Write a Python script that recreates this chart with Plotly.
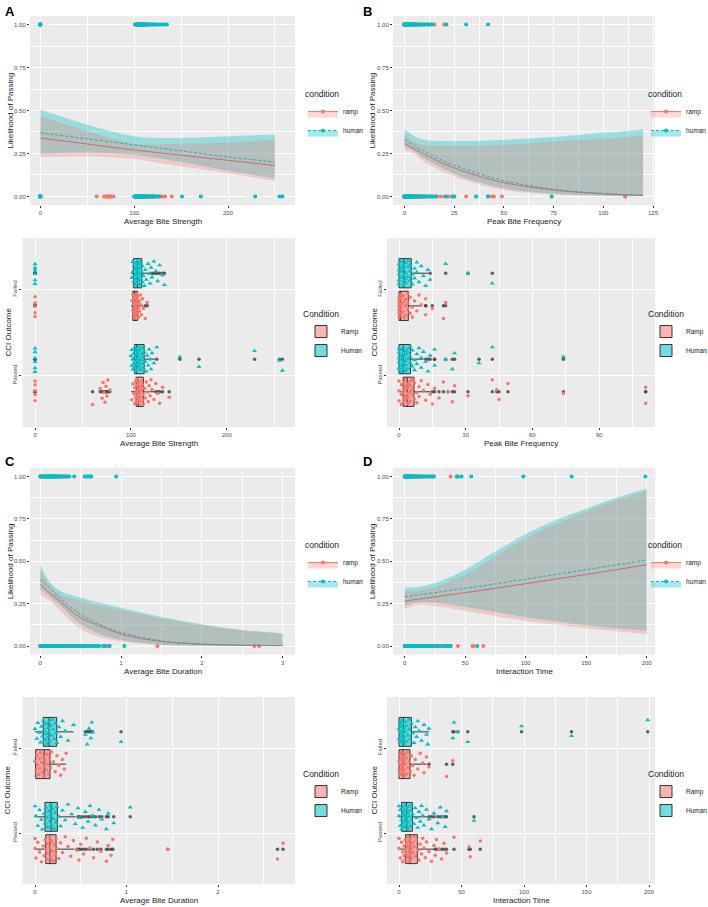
import plotly.graph_objects as go

# ======================= DATA =======================
# --- Average Bite Strength (raw values per condition / outcome) ---
strength_ramp_failed = [0, 0, 0, 0, 0, 101, 102, 102, 103, 103, 103, 104, 104, 104, 105, 105, 105, 105,
                        106, 106, 106, 107, 107, 107, 108, 108, 109, 109, 110, 110, 111, 112, 113, 115, 117]
strength_human_failed = [0, 0, 0, 0, 0, 0, 101, 102, 102, 103, 103, 104, 104, 105, 105, 105, 106, 106, 106,
                         107, 107, 107, 108, 108, 108, 109, 109, 110, 110, 111, 112, 112, 113, 114, 115, 116,
                         118, 119, 120, 121, 122, 124, 126, 128, 130, 133, 135]
strength_ramp_passed = [0, 0, 0, 0, 0, 60, 68, 70, 71, 72, 73, 74, 75, 76, 78, 101, 102, 103, 104, 104, 105,
                        105, 106, 106, 107, 107, 107, 108, 108, 108, 109, 109, 110, 110, 111, 111, 112, 112,
                        113, 113, 114, 115, 116, 117, 118, 119, 120, 121, 122, 124, 126, 128, 130, 133, 140]
strength_human_passed = [0, 0, 0, 0, 0, 0, 100, 101, 101, 102, 102, 103, 103, 104, 104, 104, 105, 105, 105,
                         106, 106, 106, 107, 107, 107, 108, 108, 108, 109, 109, 110, 110, 111, 111, 112, 112,
                         113, 114, 115, 116, 117, 118, 119, 120, 121, 122, 124, 127, 151, 171, 229, 255, 258]
# --- Peak Bite Frequency ---
freq_ramp_failed = [0, 0, 0, 0, 0, 0, 0, 1, 1, 1, 1, 1, 2, 2, 2, 2, 3, 3, 3, 4, 4, 4, 5, 5, 6, 6, 7, 8, 9,
                    10, 12, 12, 15, 20, 21]
freq_human_failed = [0, 0, 0, 0, 0, 1, 1, 1, 1, 2, 2, 2, 2, 2, 3, 3, 3, 3, 4, 4, 4, 5, 5, 5, 6, 6, 7, 7, 8,
                     8, 9, 10, 11, 12, 13, 14, 21, 31, 42]
freq_ramp_passed = [0, 0, 0, 1, 1, 1, 2, 2, 2, 2, 2, 3, 3, 3, 3, 3, 4, 4, 4, 4, 4, 5, 5, 5, 5, 6, 6, 6, 7, 7,
                    8, 8, 9, 9, 10, 11, 12, 13, 14, 15, 16, 18, 20, 22, 24, 25, 31, 42, 44, 45, 49, 74, 111, 111]
freq_human_passed = [0, 0, 0, 0, 0, 1, 1, 1, 1, 1, 2, 2, 2, 2, 2, 2, 3, 3, 3, 3, 3, 4, 4, 4, 4, 5, 5, 5, 6,
                     6, 7, 7, 8, 8, 9, 10, 10, 11, 12, 13, 14, 16, 16, 21, 24, 25, 36, 42, 74]
# --- Average Bite Duration ---
dur_ramp_failed = [0.0, 0.01, 0.02, 0.03, 0.04, 0.05, 0.05, 0.06, 0.07, 0.08, 0.09, 0.10, 0.10, 0.11, 0.12,
                   0.13, 0.14, 0.15, 0.16, 0.17, 0.18, 0.20, 0.22, 0.24, 0.26, 0.28, 0.30, 0.32, 0.34]
dur_human_failed = [0.0, 0.02, 0.03, 0.05, 0.06, 0.07, 0.08, 0.09, 0.10, 0.11, 0.12, 0.12, 0.13, 0.14, 0.14,
                    0.15, 0.15, 0.16, 0.17, 0.18, 0.19, 0.20, 0.21, 0.22, 0.23, 0.24, 0.26, 0.28, 0.30, 0.33,
                    0.36, 0.42, 0.55, 0.57, 0.59, 0.61, 0.62, 0.63, 0.94]
dur_ramp_passed = [0.0, 0.0, 0.01, 0.03, 0.05, 0.07, 0.09, 0.10, 0.11, 0.12, 0.13, 0.14, 0.15, 0.16, 0.16,
                   0.17, 0.18, 0.19, 0.20, 0.21, 0.22, 0.23, 0.24, 0.26, 0.28, 0.30, 0.33, 0.36, 0.39, 0.42,
                   0.46, 0.48, 0.50, 0.53, 0.56, 0.60, 0.64, 0.68, 0.72, 0.78, 0.80, 0.83, 0.85, 1.45, 2.65, 2.71]
dur_human_passed = [0.0, 0.01, 0.03, 0.05, 0.07, 0.08, 0.10, 0.11, 0.12, 0.13, 0.14, 0.15, 0.16, 0.17, 0.17,
                    0.18, 0.19, 0.20, 0.21, 0.22, 0.23, 0.24, 0.26, 0.28, 0.30, 0.33, 0.36, 0.40, 0.44, 0.47,
                    0.49, 0.52, 0.55, 0.58, 0.60, 0.63, 0.66, 0.70, 0.73, 0.78, 0.80, 0.86, 1.04]
# --- Interaction Time ---
time_ramp_failed = [0, 0, 1, 1, 1, 2, 2, 2, 3, 3, 3, 3, 4, 4, 4, 5, 5, 6, 6, 7, 7, 8, 9, 10, 11, 12, 13, 15,
                    17, 19, 20, 22, 24, 38, 43]
time_human_failed = [0, 0, 1, 1, 1, 2, 2, 2, 3, 3, 3, 3, 4, 4, 4, 5, 5, 6, 6, 7, 8, 8, 9, 10, 11, 12, 13, 14,
                     15, 16, 18, 20, 22, 23, 24, 43, 44, 47, 55, 98, 138, 199]
time_ramp_passed = [0, 0, 1, 2, 3, 3, 4, 4, 5, 5, 5, 6, 6, 7, 7, 7, 8, 8, 8, 9, 9, 9, 10, 10, 11, 11, 12, 12,
                    13, 14, 15, 16, 17, 18, 19, 20, 21, 22, 24, 26, 28, 29, 30, 32, 34, 36, 38, 44, 56, 57, 65]
time_human_passed = [0, 0, 1, 1, 2, 2, 3, 3, 3, 4, 4, 4, 5, 5, 5, 6, 6, 6, 7, 7, 7, 8, 8, 9, 9, 10, 10, 11,
                     12, 13, 14, 15, 16, 17, 18, 19, 20, 22, 24, 26, 28, 31, 33, 35, 37, 38, 60]

# --- Box statistics: [q1, median, q3, lower whisker, upper whisker] ---
strength_ramp_failed_box = [102.0, 104.0, 107.0, 100.0, 113.0]
strength_ramp_passed_box = [105.4, 107.8, 113.0, 100.0, 125.0]
strength_human_failed_box = [102.6, 106.8, 111.3, 100.0, 121.0]
strength_human_passed_box = [103.7, 106.0, 113.8, 100.0, 125.0]
freq_ramp_failed_box = [0.0, 0.7, 4.2, 0.0, 10.0]
freq_ramp_passed_box = [1.9, 3.75, 6.75, 0.0, 14.0]
freq_human_failed_box = [0.0, 2.2, 5.5, 0.0, 13.0]
freq_human_passed_box = [0.0, 1.9, 5.2, 0.0, 11.0]
dur_ramp_failed_box = [0.007, 0.10, 0.164, 0.0, 0.34]
dur_ramp_passed_box = [0.117, 0.164, 0.23, 0.0, 0.43]
dur_human_failed_box = [0.09, 0.153, 0.237, 0.0, 0.42]
dur_human_passed_box = [0.109, 0.175, 0.244, 0.0, 0.445]
time_ramp_failed_box = [0.0, 3.2, 8.8, 0.0, 22.0]
time_ramp_passed_box = [5.3, 8.8, 14.7, 0.0, 28.0]
time_human_failed_box = [0.0, 3.5, 9.9, 0.0, 24.0]
time_human_passed_box = [2.1, 6.1, 10.7, 0.0, 23.0]

# --- Logistic fits (fit, lower CI, upper CI) ---
strength_fit_x = [0, 50, 100, 150, 200, 250]
strength_ramp_fit = [0.34, 0.305, 0.27, 0.24, 0.21, 0.18]
strength_ramp_lo = [0.23, 0.232, 0.217, 0.174, 0.135, 0.09]
strength_ramp_hi = [0.47, 0.38, 0.307, 0.307, 0.314, 0.33]
strength_human_fit = [0.37, 0.335, 0.30, 0.265, 0.23, 0.20]
strength_human_lo = [0.248, 0.255, 0.242, 0.20, 0.15, 0.105]
strength_human_hi = [0.506, 0.418, 0.35, 0.34, 0.35, 0.36]

freq_fit_x = [0, 5, 10, 20, 30, 50, 75, 100, 120]
freq_ramp_fit = [0.307, 0.275, 0.245, 0.19, 0.145, 0.08, 0.037, 0.015, 0.006]
freq_ramp_lo = [0.27, 0.245, 0.20, 0.14, 0.095, 0.037, 0.012, 0.004, 0.001]
freq_ramp_hi = [0.36, 0.315, 0.30, 0.295, 0.295, 0.30, 0.32, 0.335, 0.355]
freq_human_fit = [0.33, 0.295, 0.262, 0.205, 0.16, 0.092, 0.042, 0.017, 0.007]
freq_human_lo = [0.29, 0.26, 0.22, 0.16, 0.11, 0.047, 0.014, 0.004, 0.001]
freq_human_hi = [0.393, 0.35, 0.33, 0.322, 0.322, 0.33, 0.346, 0.37, 0.39]

dur_fit_x = [0, 0.1, 0.25, 0.5, 0.75, 1, 1.5, 2, 2.5, 3]
dur_ramp_fit = [0.363, 0.32, 0.26, 0.168, 0.115, 0.07, 0.027, 0.01, 0.004, 0.002]
dur_ramp_lo = [0.30, 0.275, 0.207, 0.10, 0.05, 0.027, 0.006, 0.001, 0.0003, 0.0001]
dur_ramp_hi = [0.45, 0.37, 0.304, 0.265, 0.238, 0.212, 0.164, 0.123, 0.092, 0.07]
dur_human_fit = [0.392, 0.35, 0.28, 0.187, 0.125, 0.08, 0.031, 0.012, 0.005, 0.002]
dur_human_lo = [0.333, 0.30, 0.236, 0.129, 0.07, 0.035, 0.008, 0.002, 0.0005, 0.0001]
dur_human_hi = [0.48, 0.39, 0.324, 0.285, 0.255, 0.226, 0.173, 0.129, 0.095, 0.076]

time_fit_x = [0, 10, 25, 50, 75, 100, 125, 150, 175, 200]
time_ramp_fit = [0.265, 0.275, 0.29, 0.315, 0.34, 0.368, 0.395, 0.422, 0.45, 0.48]
time_ramp_lo = [0.216, 0.242, 0.236, 0.207, 0.177, 0.148, 0.125, 0.105, 0.087, 0.07]
time_ramp_hi = [0.324, 0.325, 0.35, 0.42, 0.53, 0.635, 0.72, 0.795, 0.86, 0.918]
time_human_fit = [0.29, 0.30, 0.315, 0.34, 0.367, 0.394, 0.422, 0.45, 0.478, 0.507]
time_human_lo = [0.236, 0.255, 0.255, 0.23, 0.20, 0.17, 0.145, 0.123, 0.105, 0.09]
time_human_hi = [0.347, 0.347, 0.372, 0.45, 0.557, 0.66, 0.743, 0.81, 0.875, 0.928]

# --- axis labels / ticks ---
x_titles = ["Average Bite Strength", "Peak Bite Frequency", "Average Bite Duration", "Interaction Time"]
y_titles = ["Likelihood of Passing", "CCI Outcome"]
prob_ticks = [0, 0.25, 0.5, 0.75, 1.0]
prob_tick_labels = ["0.00", "0.25", "0.50", "0.75", "1.00"]
outcome_labels = ["Passed", "Failed"]
panel_letters = ["A", "B", "C", "D"]

# ======================= STYLE =======================
FONT = "Liberation Sans, Arial, Helvetica, sans-serif"
RAMP = "#F8766D"
HUMAN = "#00BFC4"
RAMP_LINE = "#CD6A64"
HUMAN_LINE = "#2FA9AC"
RAMP_RIB = "rgba(248,118,109,0.28)"
HUMAN_RIB = "rgba(0,191,196,0.35)"
RAMP_BOX = "rgba(248,118,109,0.55)"
HUMAN_BOX = "rgba(0,191,196,0.55)"
OUTLIER = "rgba(70,70,70,0.85)"
W, H = 708, 907

fig = go.Figure()


def xa(i):
    return "x" if i == 1 else f"x{i}"


def ya(i):
    return "y" if i == 1 else f"y{i}"


def lg(i):
    return "legend" if i == 1 else f"legend{i}"


def jitter(n, h=0.15, shift=0.0):
    return [(((k + 1) * 0.6180339887 + shift) % 1.0 - 0.5) * 2 * h for k in range(n)]


def add_top(i, fx, r_fit, r_lo, r_hi, h_fit, h_lo, h_hi, r_fail, r_pass, h_fail, h_pass):
    ax = dict(xaxis=xa(i), yaxis=ya(i), hoverinfo="skip")
    # observed outcomes (Failed plotted at 1, Passed at 0 as in the original)
    for fail, pas, col in [(r_fail, r_pass, RAMP), (h_fail, h_pass, HUMAN)]:
        fig.add_trace(go.Scatter(x=fail + pas, y=[1] * len(fail) + [0] * len(pas), mode="markers",
                                 marker=dict(color=col, size=4), showlegend=False, **ax))
    # confidence ribbons (human first, ramp over it)
    for lo, hi, col, rib in [(h_lo, h_hi, HUMAN, HUMAN_RIB), (r_lo, r_hi, RAMP, RAMP_RIB)]:
        fig.add_trace(go.Scatter(x=fx, y=lo, mode="lines", line=dict(width=0, shape="spline", color=col),
                                 showlegend=False, **ax))
        fig.add_trace(go.Scatter(x=fx, y=hi, mode="lines", line=dict(width=0, shape="spline", color=col),
                                 fill="tonexty", fillcolor=rib, showlegend=False, **ax))
    # fitted lines
    for fit, col, dash in [(r_fit, RAMP_LINE, "solid"), (h_fit, HUMAN_LINE, "3px,2px")]:
        fig.add_trace(go.Scatter(x=fx, y=fit, mode="lines",
                                 line=dict(width=1, shape="spline", color=col, dash=dash),
                                 showlegend=False, **ax))
    # legend keys
    for name, col, rib, dash in [("ramp", RAMP, RAMP_RIB, "solid"), ("human", HUMAN, HUMAN_RIB, "3px,2px")]:
        fig.add_trace(go.Scatter(x=[None], y=[None], name=name, mode="lines+markers", fill="toself",
                                 fillcolor=rib, line=dict(color=col, width=1, dash=dash),
                                 marker=dict(color=col, size=4), legend=lg(i), showlegend=True, **ax))


def add_box(i, r_fail, r_pass, h_fail, h_pass, rf_box, rp_box, hf_box, hp_box):
    ax = dict(xaxis=xa(i), yaxis=ya(i), hoverinfo="skip")
    groups = [("Ramp", RAMP, RAMP_BOX, -0.19, "circle", [(2, r_fail, rf_box), (1, r_pass, rp_box)]),
              ("Human", HUMAN, HUMAN_BOX, 0.19, "triangle-up", [(2, h_fail, hf_box), (1, h_pass, hp_box)])]
    for name, col, fill, off, sym, parts in groups:
        stats = [p[2] for p in parts]
        fig.add_trace(go.Box(y=[p[0] + off for p in parts],
                             q1=[s[0] for s in stats], median=[s[1] for s in stats], q3=[s[2] for s in stats],
                             lowerfence=[s[3] for s in stats], upperfence=[s[4] for s in stats],
                             orientation="h", width=0.34, whiskerwidth=0, fillcolor=fill,
                             line=dict(color="#333333", width=1), name=name, legend=lg(i),
                             showlegend=True, boxpoints=False, **ax))
    for name, col, fill, off, sym, parts in groups:
        for cat, vals, s in parts:
            outs = [v for v in vals if v < s[3] or v > s[4]]
            fig.add_trace(go.Scatter(x=outs, y=[cat + off] * len(outs), mode="markers",
                                     marker=dict(color=OUTLIER, size=3.5), showlegend=False, **ax))
    for name, col, fill, off, sym, parts in groups:
        for cat, vals, s in parts:
            jit = jitter(len(vals), 0.15, 0.3 if cat == 1 else 0.0)
            fig.add_trace(go.Scatter(x=vals, y=[cat + off + j for j in jit], mode="markers",
                                     marker=dict(color=col, size=3.5 if sym == "circle" else 4.5, symbol=sym),
                                     showlegend=False, **ax))


add_top(1, strength_fit_x, strength_ramp_fit, strength_ramp_lo, strength_ramp_hi,
        strength_human_fit, strength_human_lo, strength_human_hi,
        strength_ramp_failed, strength_ramp_passed, strength_human_failed, strength_human_passed)
add_top(2, freq_fit_x, freq_ramp_fit, freq_ramp_lo, freq_ramp_hi,
        freq_human_fit, freq_human_lo, freq_human_hi,
        freq_ramp_failed, freq_ramp_passed, freq_human_failed, freq_human_passed)
add_box(3, strength_ramp_failed, strength_ramp_passed, strength_human_failed, strength_human_passed,
        strength_ramp_failed_box, strength_ramp_passed_box, strength_human_failed_box, strength_human_passed_box)
add_box(4, freq_ramp_failed, freq_ramp_passed, freq_human_failed, freq_human_passed,
        freq_ramp_failed_box, freq_ramp_passed_box, freq_human_failed_box, freq_human_passed_box)
add_top(5, dur_fit_x, dur_ramp_fit, dur_ramp_lo, dur_ramp_hi,
        dur_human_fit, dur_human_lo, dur_human_hi,
        dur_ramp_failed, dur_ramp_passed, dur_human_failed, dur_human_passed)
add_top(6, time_fit_x, time_ramp_fit, time_ramp_lo, time_ramp_hi,
        time_human_fit, time_human_lo, time_human_hi,
        time_ramp_failed, time_ramp_passed, time_human_failed, time_human_passed)
add_box(7, dur_ramp_failed, dur_ramp_passed, dur_human_failed, dur_human_passed,
        dur_ramp_failed_box, dur_ramp_passed_box, dur_human_failed_box, dur_human_passed_box)
add_box(8, time_ramp_failed, time_ramp_passed, time_human_failed, time_human_passed,
        time_ramp_failed_box, time_ramp_passed_box, time_human_failed_box, time_human_passed_box)

# ======================= LAYOUT =======================
XL_TOP, XR_TOP = [30, 295], [393, 655]
XL_BOX, XR_BOX = [22.3, 295], [387, 655]
ROWS = {1: (16, 205), 2: (238, 427), 3: (468, 654.5), 4: (697, 884)}

panels = {
    1: dict(kind="top", xd=XL_TOP, row=1, xr=[-11, 271.4], dt=100, mdt=50, t=x_titles[0], ty=221.5, yx=10),
    2: dict(kind="top", xd=XR_TOP, row=1, xr=[-5.8, 126], dt=25, mdt=12.5, t=x_titles[1], ty=221.5, yx=372),
    3: dict(kind="box", xd=XL_BOX, row=2, xr=[-13.3, 271.2], dt=100, mdt=50, t=x_titles[0], ty=443, yx=8),
    4: dict(kind="box", xd=XR_BOX, row=2, xr=[-5.4, 115.2], dt=30, mdt=15, t=x_titles[1], ty=443, yx=374),
    5: dict(kind="top", xd=XL_TOP, row=3, xr=[-0.127, 3.153], dt=1, mdt=0.5, t=x_titles[2], ty=671, yx=10),
    6: dict(kind="top", xd=XR_TOP, row=3, xr=[-9.67, 206.9], dt=50, mdt=25, t=x_titles[3], ty=671, yx=372),
    7: dict(kind="box", xd=XL_BOX, row=4, xr=[-0.139, 2.841], dt=1, mdt=0.5, t=x_titles[2], ty=900.5, yx=7),
    8: dict(kind="box", xd=XR_BOX, row=4, xr=[-9.6, 204.8], dt=50, mdt=25, t=x_titles[3], ty=900.5, yx=374),
}

layout = dict(width=W, height=H, margin=dict(l=0, r=0, t=0, b=0, pad=0, autoexpand=False),
              paper_bgcolor="white", plot_bgcolor="#EBEBEB", font=dict(family=FONT, color="#1A1A1A"),
              hovermode=False)

tickfont = dict(size=6, color="#4D4D4D", family=FONT)
titlefont = dict(size=8, color="#1A1A1A", family=FONT)
annotations = []
for i, p in panels.items():
    xk = "xaxis" if i == 1 else f"xaxis{i}"
    yk = "yaxis" if i == 1 else f"yaxis{i}"
    top, bot = ROWS[p["row"]]
    xd = [p["xd"][0] / W, p["xd"][1] / W]
    yd = [1 - bot / H, 1 - top / H]
    layout[xk] = dict(domain=xd, anchor=ya(i), range=p["xr"], tick0=0, dtick=p["dt"], automargin=False,
                      showgrid=True, gridcolor="white", gridwidth=1, zeroline=False, showline=False,
                      minor=dict(tick0=0, dtick=p["mdt"], showgrid=True, gridcolor="white", gridwidth=0.5),
                      ticks="outside", ticklen=2, tickwidth=0.7, tickcolor="#333333", tickfont=tickfont,
                      fixedrange=True)
    if p["kind"] == "top":
        layout[yk] = dict(domain=yd, anchor=xa(i), range=[-0.05, 1.05], tickvals=prob_ticks,
                          ticktext=prob_tick_labels, showgrid=True, gridcolor="white", gridwidth=1,
                          zeroline=False, automargin=False,
                          minor=dict(tickvals=[0.125, 0.375, 0.625, 0.875], showgrid=True,
                                     gridcolor="white", gridwidth=0.5),
                          ticks="outside", ticklen=2, tickwidth=0.7, tickcolor="#333333", tickfont=tickfont,
                          fixedrange=True)
        ytitle = y_titles[0]
    else:
        layout[yk] = dict(domain=yd, anchor=xa(i), range=[0.4, 2.6], tickvals=[1, 2],
                          ticktext=outcome_labels, tickangle=-90, showgrid=True, gridcolor="white",
                          gridwidth=1, zeroline=False, ticks="outside", ticklen=2, tickwidth=0.7,
                          tickcolor="#333333", tickfont=tickfont, automargin=False, fixedrange=True)
        ytitle = y_titles[1]
    # axis titles
    annotations.append(dict(text=p["t"], x=(xd[0] + xd[1]) / 2, y=1 - p["ty"] / H, xref="paper", yref="paper",
                            xanchor="center", yanchor="middle", showarrow=False, font=titlefont))
    annotations.append(dict(text=ytitle, x=p["yx"] / W, y=(yd[0] + yd[1]) / 2, xref="paper", yref="paper",
                            xanchor="center", yanchor="middle", textangle=-90, showarrow=False, font=titlefont))

legend_pos = {1: (303, 86), 2: (646, 86), 3: (301, 306), 4: (646, 306),
              5: (303, 537), 6: (646, 537), 7: (301, 766), 8: (646, 766)}
for i, (lx, ly) in legend_pos.items():
    title = "condition" if panels[i]["kind"] == "top" else "Condition"
    layout[lg(i)] = dict(x=lx / W, y=1 - ly / H, xref="container", yref="container",
                         xanchor="left", yanchor="top", bgcolor="rgba(0,0,0,0)", traceorder="normal",
                         title=dict(text=title, font=dict(size=8.5, family=FONT, color="#1A1A1A")),
                         font=dict(size=6.5, family=FONT, color="#1A1A1A"), tracegroupgap=0,
                         itemwidth=30, itemclick=False, itemdoubleclick=False)

for letter, (ax_px, ay_px) in zip(panel_letters, [(3, 2), (361, 2), (3, 452), (361, 452)]):
    annotations.append(dict(text=f"<b>{letter}</b>", x=ax_px / W, y=1 - ay_px / H, xref="paper", yref="paper",
                            xanchor="left", yanchor="top", showarrow=False,
                            font=dict(size=13, family=FONT, color="black")))
layout["annotations"] = annotations

fig.update_layout(**layout)
fig.write_html("out.html", config={"displayModeBar": False, "staticPlot": False},
               post_script="document.body.style.margin='0';document.body.style.overflow='hidden';")
